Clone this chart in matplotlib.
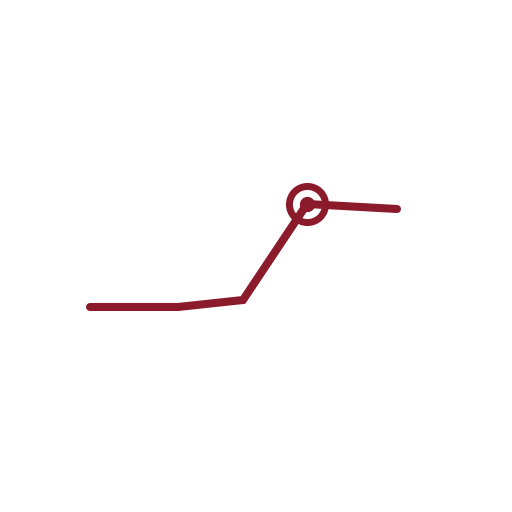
import matplotlib
matplotlib.use("Agg")
import matplotlib.pyplot as plt

# series values (arbitrary units)
x = [0, 8.8, 15.3, 21.7, 30.7]
y = [0, 0, 0.7, 10.3, 9.8]
highlight = 3  # index of the marked point

color = "#8b1a2b"

fig = plt.figure(figsize=(5.12, 5.12), dpi=100)
ax = fig.add_axes([0, 0, 1, 1])
ax.plot(x, y, color=color, lw=5.8, solid_capstyle="round", solid_joinstyle="miter")
ax.plot(x[highlight], y[highlight], "o", ms=26, mfc="none", mec=color, mew=5)
ax.plot(x[highlight], y[highlight], "o", ms=10, color=color)
ax.set_xlim(-9.0, 42.2)
ax.set_ylim(-20.5, 30.7)
ax.axis("off")
fig.savefig("out.png", dpi=100)
